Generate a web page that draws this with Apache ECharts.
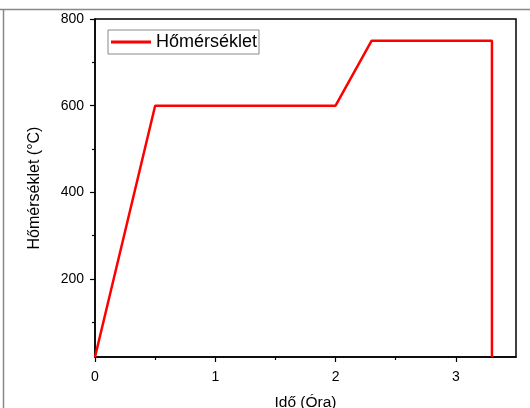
<!DOCTYPE html>
<html><head><meta charset="utf-8">
<script src="https://cdn.jsdelivr.net/npm/echarts@6/dist/echarts.min.js"></script>
<style>html,body{margin:0;padding:0;background:#fff}#c{width:530px;height:408px}</style>
</head><body><div id="c"></div>
<script>
const timeHours = [0, 0.5, 2, 2.3, 3.3, 3.3];
const temperatureC = [20, 600, 600, 750, 750, 20];
const seriesName = 'Hőmérséklet';
const yMajorTicks = [200, 400, 600, 800];
const yMinorTicks = [100, 300, 500, 700];
const xMajorTicks = [0, 1, 2, 3];
const xMinorTicks = [0.5, 1.5, 2.5];

const FONT = '"Liberation Sans", Arial, sans-serif';
const chart = echarts.init(document.getElementById('c'));
const axisLineStyle = {color: '#000', width: 1.5};
chart.setOption({
  animation: false,
  textStyle: {fontFamily: FONT},
  grid: {left: 95, right: 14, top: 19, bottom: 51, show: true, borderColor: '#000', borderWidth: 1.5, containLabel: false, outerBoundsMode: 'none'},
  graphic: [
    {type: 'line', shape: {x1: 0, y1: 9.5, x2: 530, y2: 9.5}, style: {stroke: '#888', lineWidth: 1.5}, silent: true},
    {type: 'line', shape: {x1: 3.5, y1: 9.5, x2: 3.5, y2: 408}, style: {stroke: '#888', lineWidth: 1.5}, silent: true}
  ],
  legend: {
    left: 108, top: 30, orient: 'vertical',
    data: [{name: seriesName, icon: 'rect'}],
    itemWidth: 40, itemHeight: 3, itemGap: 4,
    padding: [3, 2, 3, 3],
    borderColor: '#888', borderWidth: 1,
    textStyle: {fontSize: 18, color: '#000', fontFamily: FONT}
  },
  xAxis: [{
    type: 'value', min: 0, max: 3.5, position: 'bottom',
    name: 'Idő (Óra)', nameLocation: 'middle', nameGap: 38,
    nameTextStyle: {fontSize: 15.5, color: '#000', fontFamily: FONT},
    axisLine: {show: true, onZero: false, lineStyle: axisLineStyle},
    axisTick: {show: true, inside: false, length: 5, customValues: xMajorTicks, lineStyle: {color: '#000', width: 1.2}},
    axisLabel: {customValues: xMajorTicks, fontSize: 14, color: '#000', margin: 13, fontFamily: FONT},
    splitLine: {show: false}
  }, {
    type: 'value', min: 0, max: 3.5, position: 'bottom',
    axisLine: {show: false},
    axisTick: {show: true, inside: false, length: 3, customValues: xMinorTicks, lineStyle: {color: '#000', width: 1.2}},
    axisLabel: {show: false},
    splitLine: {show: false}
  }],
  yAxis: [{
    type: 'value', min: 20, max: 800, position: 'left',
    name: 'Hőmérséklet (°C)', nameLocation: 'middle', nameGap: 52, nameRotate: 90,
    nameTextStyle: {fontSize: 16, color: '#000', fontFamily: FONT},
    axisLine: {show: true, onZero: false, lineStyle: axisLineStyle},
    axisTick: {show: true, inside: false, length: 5, customValues: yMajorTicks, lineStyle: {color: '#000', width: 1.2}},
    axisLabel: {customValues: yMajorTicks, fontSize: 14, color: '#000', margin: 11, fontFamily: FONT},
    splitLine: {show: false}
  }, {
    type: 'value', min: 20, max: 800, position: 'left',
    axisLine: {show: false},
    axisTick: {show: true, inside: false, length: 3, customValues: yMinorTicks, lineStyle: {color: '#000', width: 1.2}},
    axisLabel: {show: false},
    splitLine: {show: false}
  }],
  series: [{
    name: seriesName, type: 'line', xAxisIndex: 0, yAxisIndex: 0,
    data: timeHours.map((t, i) => [t, temperatureC[i]]),
    showSymbol: false, symbol: 'none',
    lineStyle: {color: '#ff0000', width: 2.5},
    itemStyle: {color: '#ff0000'}
  }]
});
</script></body></html>
